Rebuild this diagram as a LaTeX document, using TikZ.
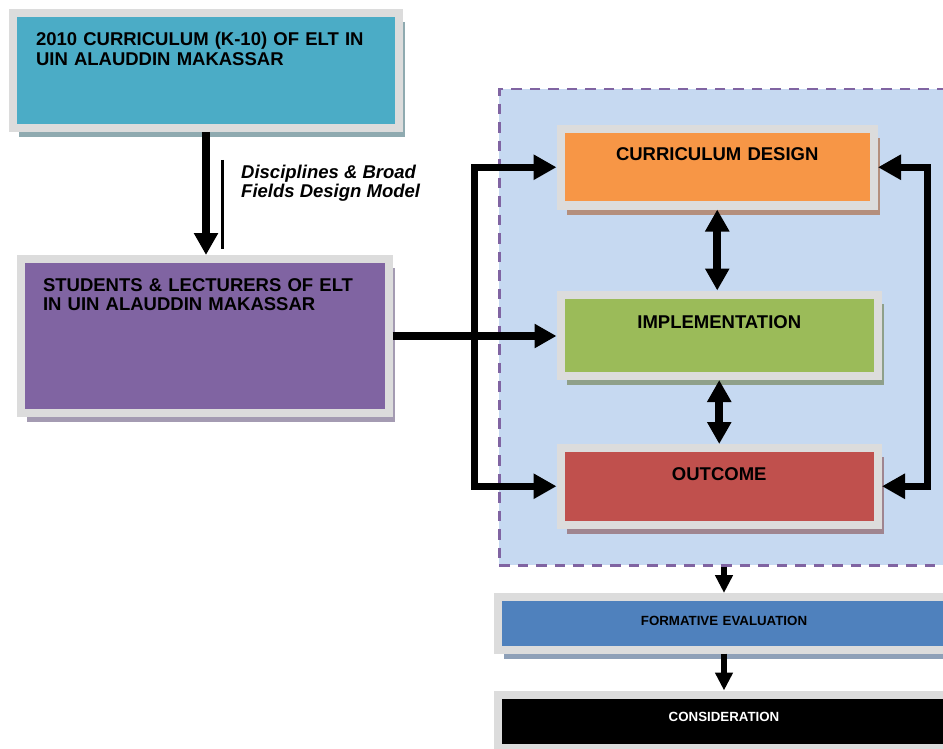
\documentclass[tikz,border=0pt]{standalone}
\usepackage{fontspec}
\setmainfont{Liberation Sans}
\usetikzlibrary{positioning, arrows.meta, shadows}

\definecolor{bandgray}{HTML}{DCDCDC}
\definecolor{tealbox}{HTML}{4BACC6}
\definecolor{purplebox}{HTML}{8064A2}
\definecolor{orangebox}{HTML}{F79646}
\definecolor{greenbox}{HTML}{9BBB59}
\definecolor{redbox}{HTML}{C0504D}
\definecolor{bluebox}{HTML}{4F81BD}
\definecolor{bgblue}{HTML}{C6D9F1}
\definecolor{dashline}{HTML}{8064A2}
\definecolor{shteal}{HTML}{8FAAB0}
\definecolor{shpurple}{HTML}{A49BB2}
\definecolor{shorange}{HTML}{B48F7D}
\definecolor{shgreen}{HTML}{8FA08A}
\definecolor{shred}{HTML}{9F8590}
\definecolor{shblue}{HTML}{8EA0B8}

\begin{document}
\begin{tikzpicture}[x=1pt, y=-1pt,
    panel/.style={draw=bandgray, line width=8pt, inner ysep=0pt, align=left,
                  font=\bfseries\fontsize{18.5}{19.5}\selectfont},
    core/.style={panel, align=center, inner xsep=0pt},
    lowbox/.style={panel, align=center, inner xsep=0pt, text width=452pt,
                   font=\bfseries\fontsize{13.3}{15}\selectfont},
    shadowed/.style={drop shadow={shadow xshift=6pt, shadow yshift=-9pt, opacity=1, fill=#1}},
    region/.style={fill=bgblue, draw=dashline, line width=2.5pt, dash pattern=on 10.5pt off 8pt, inner sep=0pt},
    fat/.style={line width=8pt, -{Triangle[length=22pt,width=23pt]}},
    both/.style={line width=8pt, {Triangle[length=22pt,width=23pt]}-{Triangle[length=22pt,width=23pt]}},
    ring/.style={line width=7pt, {Triangle[length=23pt,width=24pt]}-{Triangle[length=23pt,width=24pt]}},
    thinarrow/.style={line width=6pt, -{Triangle[length=18pt,width=17pt]}}]
        \useasboundingbox (0,0) rectangle (943,749);
        \clip (0,0) rectangle (943,749);

        \node[region, anchor=north west, minimum width=467pt, minimum height=476pt] (R0) at (498,88) {};

        \node[panel, fill=tealbox, shadowed=shteal, anchor=north west, text width=340pt, inner xsep=23pt,
              text height=33pt, text depth=82pt]                        (A0) at (9,9)   {2010 CURRICULUM (K-10) OF ELT IN\\UIN ALAUDDIN MAKASSAR};
        \node[panel, fill=purplebox, shadowed=shpurple, anchor=north west, text width=323.5pt, inner xsep=22pt,
              text height=32pt, text depth=122pt]                       (A1) at (17,255) {STUDENTS \& LECTURERS OF ELT\\IN UIN ALAUDDIN MAKASSAR};
        \node[anchor=base west, inner sep=0pt, align=left,
              font=\bfseries\itshape\fontsize{18.5}{19}\selectfont]     (L0) at (241,197) {Disciplines \& Broad\\Fields Design Model};

        \node[core, fill=orangebox, shadowed=shorange, anchor=north west, text width=313.5pt,
              text height=32pt, text depth=44.5pt]                      (B0) at (556.5,125) {CURRICULUM DESIGN};
        \node[core, fill=greenbox, shadowed=shgreen, text width=317.5pt, text height=34pt, text depth=47.5pt,
              below=81pt of B0.south west, anchor=north west]           (B1) {IMPLEMENTATION};
        \node[core, fill=redbox, shadowed=shred, text width=317.5pt, text height=32pt, text depth=44.5pt,
              below=64pt of B1.south west, anchor=north west]           (B2) {OUTCOME};

        \node[lowbox, fill=bluebox, shadowed=shblue, anchor=north west,
              text height=28pt, text depth=24.5pt]                      (C0) at (494,593) {FORMATIVE EVALUATION};
        \node[lowbox, fill=black, text=white, text height=27pt, text depth=26pt,
              below=37pt of C0.south west, anchor=north west]           (C1) {CONSIDERATION};

        \draw[fat] (A0.south) -- (A0.south |- A1.north);
        \draw[line width=3pt] (222.5,160) -- (222.5,249);
        \draw[fat] (A1.east) -- (A1.east -| B1.west);
        \draw[ring] (B0.west) -- ++(-82,0) |- (B2.west);
        \draw[ring] (B0.east) -- ++(49,0) |- (B2.east);
        \draw[both] (B0.south) -- (B0.south |- B1.north);
        \draw[both] (B1.south) -- (B2.north);
        \draw[thinarrow] (C0.north |- R0.south) -- (C0.north);
        \draw[thinarrow] (C0.south) -- (C1.north);
\end{tikzpicture}
\end{document}
